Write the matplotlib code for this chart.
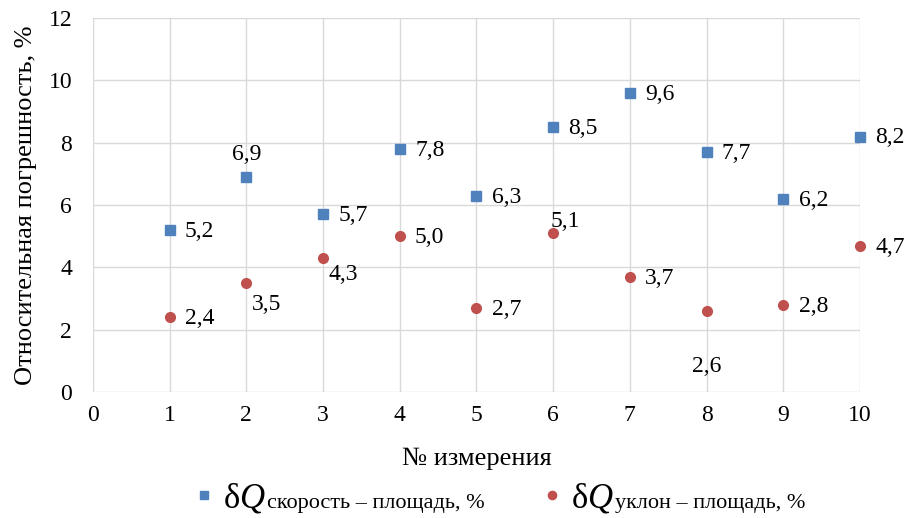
import matplotlib.pyplot as plt

plt.rcParams['font.family'] = ['Liberation Serif', 'DejaVu Serif']
plt.rcParams['mathtext.fontset'] = 'custom'
plt.rcParams['mathtext.it'] = 'Liberation Serif:italic'
plt.rcParams['mathtext.rm'] = 'Liberation Serif'

n = [1, 2, 3, 4, 5, 6, 7, 8, 9, 10]
speed_area = [5.2, 6.9, 5.7, 7.8, 6.3, 8.5, 9.6, 7.7, 6.2, 8.2]
slope_area = [2.4, 3.5, 4.3, 5.0, 2.7, 5.1, 3.7, 2.6, 2.8, 4.7]

blue = '#4F81BD'
red = '#C0504D'

# label placement (offset points, ha, va)
right = ((11, -1), 'left', 'center')
pos_speed = [right, ((0, 9), 'center', 'bottom'), right, right, right,
             right, right, right, right, right]
pos_slope = [right, ((4, -8), 'left', 'top'), ((4, -4), 'left', 'top'), right, right,
             ((-2, 1), 'left', 'bottom'), right, ((0, -32), 'center', 'top'), right, right]

fig = plt.figure(figsize=(9.11, 5.18), dpi=100)
ax = fig.add_axes([0.102, 0.243, 0.842, 0.722])

ax.plot(n, speed_area, 's', color=blue, markersize=7, clip_on=False, zorder=3)
ax.plot(n, slope_area, 'o', color=red, markersize=7, clip_on=False, zorder=3)

for xs, ys, pos in [(n, speed_area, pos_speed), (n, slope_area, pos_slope)]:
    for x, y, (off, ha, va) in zip(xs, ys, pos):
        ax.annotate(f'{y:.1f}'.replace('.', ','), (x, y), xytext=off,
                    textcoords='offset points', ha=ha, va=va, fontsize=17)

ax.set_xlim(0, 10)
ax.set_ylim(0, 12)
ax.set_xticks(range(0, 11))
ax.set_yticks(range(0, 13, 2))
ax.grid(True, color='#D9D9D9', linewidth=1)
ax.set_axisbelow(True)
for s in ax.spines.values():
    s.set_visible(False)
ax.tick_params(axis='x', length=0, labelsize=17, pad=9)
ax.tick_params(axis='y', length=0, labelsize=17, pad=15)
ax.set_xlabel('№ измерения', fontsize=19, labelpad=16)
ax.set_ylabel('Относительная погрешность, %', fontsize=19, labelpad=8)

leg = fig.legend(ax.get_lines(), [r'$\mathrm{δ}Q$', r'$\mathrm{δ}Q$'], loc='center left',
                 bbox_to_anchor=(0.214, 0.038), ncol=2, frameon=False,
                 fontsize=25, handlelength=0.5, handletextpad=0.3,
                 columnspacing=8.0, borderpad=0, borderaxespad=0,
                 markerscale=0.85)

fig.canvas.draw()
subs = ['скорость – площадь, %', 'уклон – площадь, %']
inv = fig.transFigure.inverted()
for t, s in zip(leg.get_texts(), subs):
    bb = t.get_window_extent()
    x0, y0 = inv.transform((bb.x1 + 1, bb.y0 + 7))
    fig.text(x0, y0, s, fontsize=16, ha='left', va='baseline')

fig.savefig('out.png', dpi=100)
